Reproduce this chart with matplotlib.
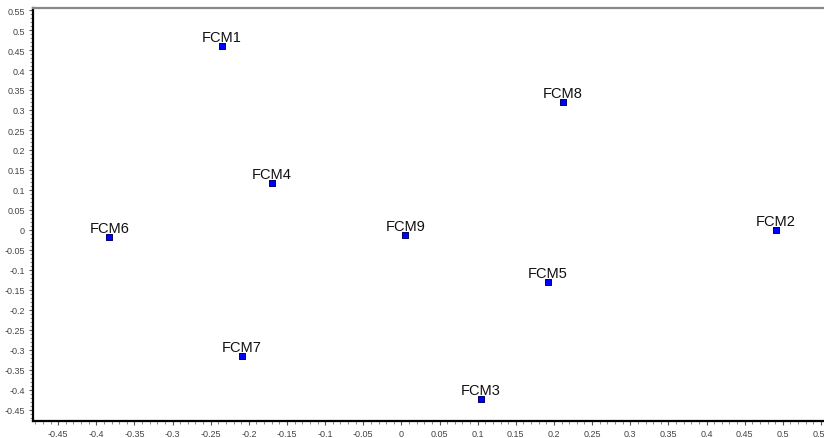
import numpy as np
import matplotlib
matplotlib.use("Agg")
import matplotlib.pyplot as plt
from matplotlib.ticker import MultipleLocator, FuncFormatter

# sample labels and their coordinates
labels = ["FCM1", "FCM2", "FCM3", "FCM4", "FCM5", "FCM6", "FCM7", "FCM8", "FCM9"]
x_vals = [-0.235, 0.491, 0.104, -0.170, 0.192, -0.383, -0.209, 0.212, 0.005]
y_vals = [0.460, 0.000, -0.422, 0.117, -0.130, -0.018, -0.315, 0.320, -0.013]

plt.rcParams['font.family'] = ['Liberation Sans', 'DejaVu Sans']

W, H = 824, 439
fig = plt.figure(figsize=(W / 100, H / 100), dpi=100)
ax = fig.add_axes([33 / W, 17 / H, 1 - 33 / W, (422 - 9) / H])

ax.scatter(x_vals, y_vals, marker='s', s=20, color='#0000ff',
           edgecolors='#00006a', linewidths=0.7, zorder=3)

for lab, x, y in zip(labels, x_vals, y_vals):
    ax.annotate(lab, (x, y), xytext=(0, 1.5), textcoords='offset points',
                ha='center', va='bottom', fontsize=10.5, color='#111111')

ax.set_xlim(-0.483, 0.554)
ax.set_ylim(-0.4775, 0.555)

ax.xaxis.set_major_locator(MultipleLocator(0.05))
ax.xaxis.set_minor_locator(MultipleLocator(0.01))
ax.yaxis.set_major_locator(MultipleLocator(0.05))
ax.yaxis.set_minor_locator(MultipleLocator(0.01))


def fmt(v, pos):
    s = f"{v:.2f}".rstrip('0').rstrip('.')
    if s in ("-0", "0.0", "-0.0"):
        s = "0"
    return s


ax.xaxis.set_major_formatter(FuncFormatter(fmt))
ax.yaxis.set_major_formatter(FuncFormatter(fmt))

ax.tick_params(which='major', direction='out', length=3, width=0.8,
               labelsize=6.5, labelcolor='#444444', color='#555555', pad=3)
ax.tick_params(which='minor', direction='out', length=2, width=0.6, color='#777777')

ax.spines['right'].set_visible(False)
ax.spines['left'].set_linewidth(1.6)
ax.spines['bottom'].set_linewidth(1.6)
ax.spines['top'].set_linewidth(1.6)
ax.spines['top'].set_color('#888888')

fig.savefig('out.png', dpi=100)
